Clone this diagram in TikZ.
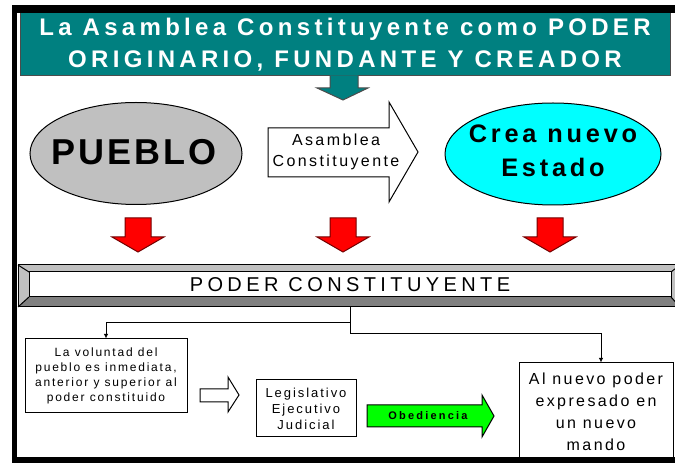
\documentclass[tikz,border=0pt]{standalone}
\usepackage{fontspec}
\setmainfont{Liberation Sans}
\newfontfamily\espaciada[LetterSpace=15]{Liberation Sans}
\newfontfamily\titular[LetterSpace=18]{Liberation Sans}
\newfontfamily\rotulo[LetterSpace=22]{Liberation Sans}
\newfontfamily\grande[LetterSpace=8]{Liberation Sans}
\newfontfamily\menuda[LetterSpace=20]{Liberation Sans}
\usetikzlibrary{arrows.meta}

\definecolor{verdeazul}{RGB}{0,128,128}
\definecolor{grisclaro}{RGB}{192,192,192}
\definecolor{grisoscuro}{RGB}{128,128,128}
\definecolor{celeste}{RGB}{0,255,255}
\definecolor{verdevivo}{RGB}{0,255,0}
\definecolor{rojovivo}{RGB}{255,0,0}

\tikzset{every picture/.style={line width=0.75pt}}
\tikzset{
  caja/.style={draw, fill=white, align=center, inner sep=0pt},
  conector/.style={-{Latex[length=3.5pt,width=3.5pt]}},
  flecharoja/.style={fill=rojovivo, draw=black!55!red},
}

\begin{document}
\begin{tikzpicture}[x=0.75pt,y=0.75pt,yscale=-1,xscale=1]
	\useasboundingbox (0,0) rectangle (675,466);
	\fill[white] (0,0) rectangle (675,466);

	%Shape: Rectangle (titulo)
	\node (titulo) [draw=black!70, fill=verdeazul, text=white, minimum width=487.5pt, minimum height=47.25pt, align=center, inner sep=0pt, font=\titular\bfseries\fontsize{18}{24}\selectfont] at (345,44.5) {La Asamblea Constituyente como PODER\\ORIGINARIO, FUNDANTE Y CREADOR};
	%Shape: Down Arrow
	\fill[verdeazul] (330,75.5) -- (358,75.5) -- (358,88) -- (368,88) -- (343,100) -- (317,88) -- (330,88) -- cycle;
	\draw[black!70] (330,76) -- (330,88) -- (317,88) -- (343,100) -- (368,88) -- (358,88) -- (358,76);

	%Shape: Ellipse
	\draw[fill=grisclaro] (136,153.5) ellipse [x radius=106, y radius=51];
	% Text Node
	\node (pueblo) at (134,152) [font=\grande\bfseries\fontsize{27}{32}\selectfont] {PUEBLO};

	%Shape: Right Arrow
	\draw[fill=white] (268,128) -- (389,128) -- (389,102) -- (418,152) -- (389,202) -- (389,177) -- (268,177) -- cycle;
	% Text Node
	\node (asamblea) at (336,152) [align=center, font=\espaciada\fontsize{12}{15.75}\selectfont] {Asamblea\\Constituyente};

	%Shape: Ellipse
	\draw[fill=celeste] (553,154) ellipse [x radius=108, y radius=51];
	% Text Node
	\node (estado) at (553,151) [align=center, font=\espaciada\bfseries\fontsize{19}{25.5}\selectfont] {Crea nuevo\\Estado};

	%Shape: Down Arrows
	\draw[flecharoja] (125,218) -- (151,218) -- (151,237) -- (164,237) -- (138,252) -- (112,237) -- (125,237) -- cycle;
	\draw[flecharoja] (330,218) -- (356,218) -- (356,237) -- (369,237) -- (343,252) -- (317,237) -- (330,237) -- cycle;
	\draw[flecharoja] (537,218) -- (563,218) -- (563,237) -- (576,237) -- (550,252) -- (524,237) -- (537,237) -- cycle;

	%Shape: Bevel
	\fill[grisclaro] (18,265) -- (680,265) -- (671,272) -- (29,272) -- cycle;
	\fill[grisclaro] (18,265) -- (29,272) -- (29,297) -- (18,307) -- cycle;
	\fill[grisclaro] (680,265) -- (671,272) -- (671,297) -- (680,307) -- cycle;
	\fill[grisoscuro] (18,307) -- (680,307) -- (671,297) -- (29,297) -- cycle;
	\draw (18,265) rectangle (680,307);
	\draw[fill=white] (29,272) rectangle (671,297);
	\draw (18,265) -- (29,272) (18,307) -- (29,297) (671,272) -- (680,265) (671,297) -- (680,307);
	% Text Node
	\node (poder) at (350,284.5) [font=\rotulo\fontsize{15}{18}\selectfont] {PODER CONSTITUYENTE};
	\coordinate (barbot) at (350,307);

	% Boxes
	\node (voluntad) [caja, minimum width=121.5pt, minimum height=55.5pt, font=\espaciada\fontsize{9}{11.25}\selectfont] at (106,376) {La voluntad del\\pueblo es inmediata,\\anterior y superior al\\poder constituido};
	\node (poderes) [caja, minimum width=75pt, minimum height=42.75pt, font=\espaciada\fontsize{9.75}{12}\selectfont] at (306,408.5) {Legislativo\\Ejecutivo\\Judicial};
	\node (mando) [caja, minimum width=115.5pt, minimum height=72.75pt, font=\espaciada\fontsize{12}{16.5}\selectfont] at (596,411.5) {Al nuevo poder\\expresado en\\un nuevo\\mando};

	%Shape: Right Arrow
	\draw[fill=white] (200,389) -- (228,389) -- (228,377) -- (239,395) -- (228,412) -- (228,402) -- (200,402) -- cycle;
	%Shape: Right Arrow
	\draw[fill=verdevivo] (367,405) -- (482,405) -- (482,395) -- (494,416) -- (482,437) -- (482,427) -- (367,427) -- cycle;
	% Text Node
	\node (obediencia) at (428,416) [font=\menuda\bfseries\fontsize{8.25}{10}\selectfont] {Obediencia};

	%Straight Lines
	\draw[conector] (barbot) -- ++(0,16) -| (voluntad.north);
	\draw[conector] (barbot) -- ++(0,27) -| ([xshift=3.75pt]mando.north);

	%Frame
	\fill (12,5) rectangle (675,13);
	\fill (12,5) rectangle (17,463);
	\fill (12,457) rectangle (675,463);

\end{tikzpicture}
\end{document}
